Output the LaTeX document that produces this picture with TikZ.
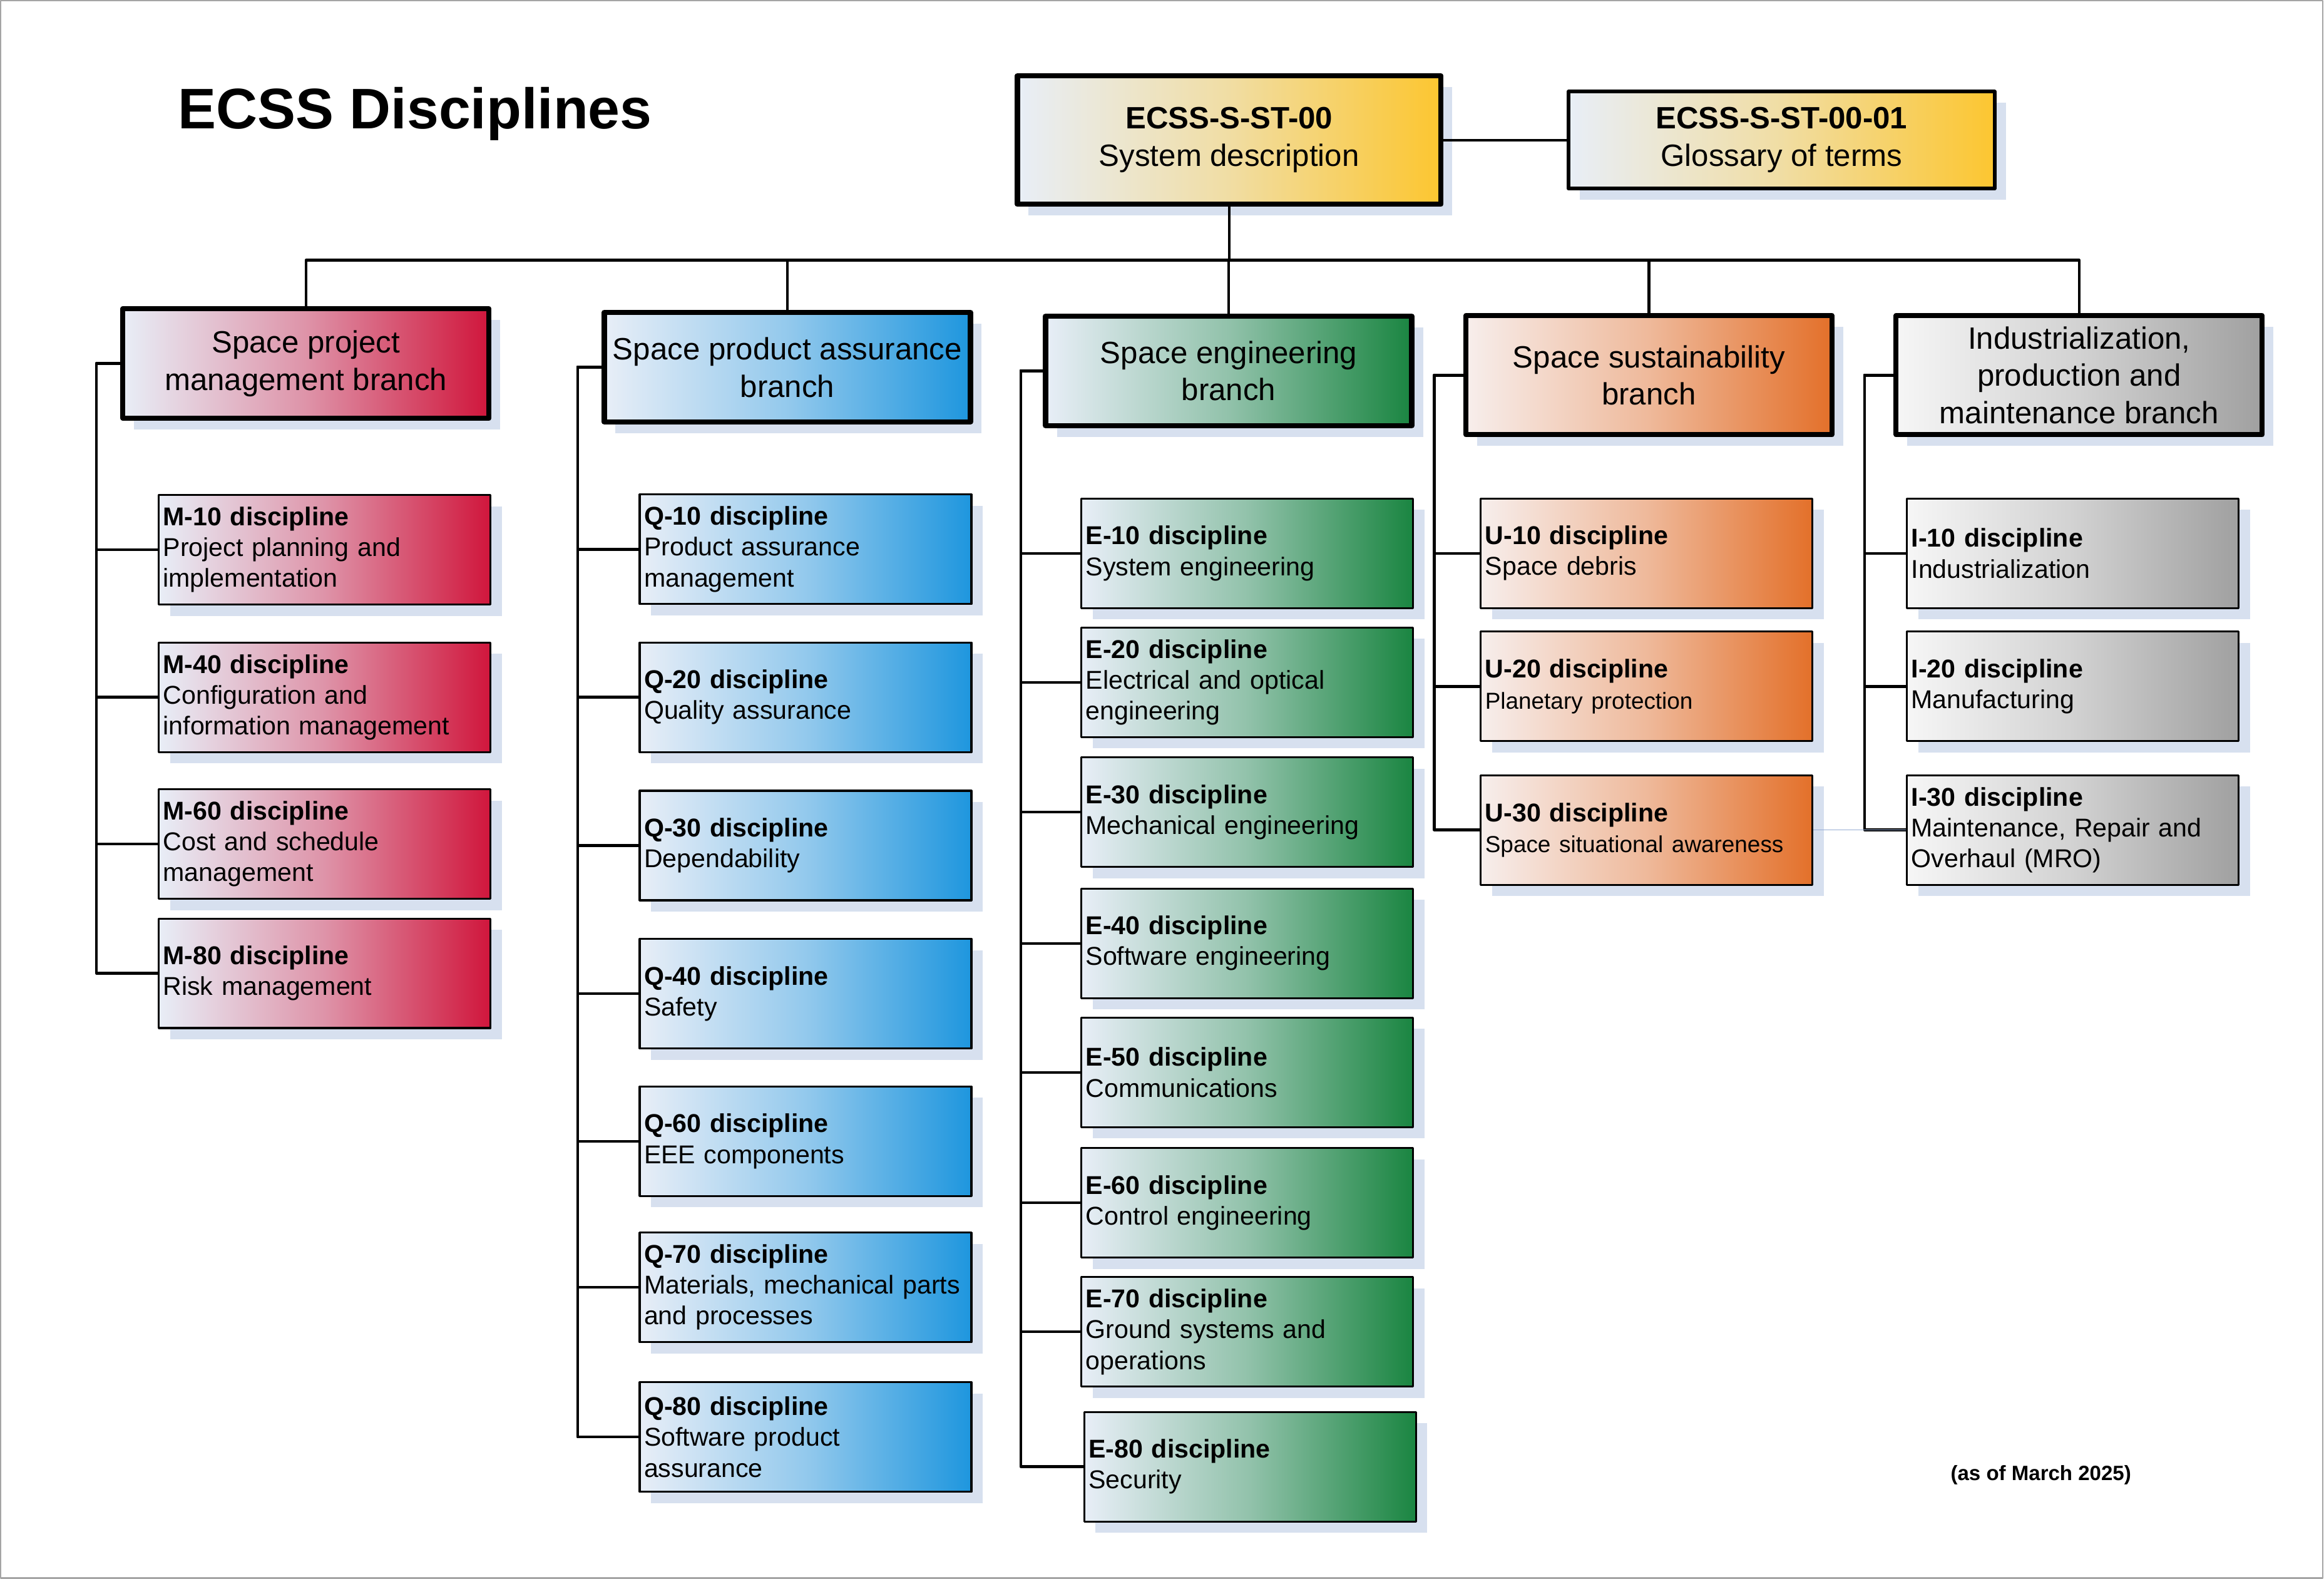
\documentclass[tikz,border=0pt]{standalone}
\usepackage{fontspec}
\setmainfont{Liberation Sans}
\usetikzlibrary{shadows}
\definecolor{pale}{RGB}{232,238,247}
\definecolor{warmpale}{RGB}{247,238,236}
\definecolor{greypale}{RGB}{246,246,246}
\definecolor{shadowc}{RGB}{215,224,239}
\definecolor{ecgold}{RGB}{252,198,48}
\definecolor{ecred}{RGB}{208,22,60}
\definecolor{ecblue}{RGB}{30,150,222}
\definecolor{ecgreen}{RGB}{26,133,65}
\definecolor{ecorange}{RGB}{227,112,42}
\definecolor{ecgrey}{RGB}{160,160,160}
\definecolor{framec}{RGB}{165,165,165}
\definecolor{faint}{RGB}{150,172,212}
\begin{document}
\begin{tikzpicture}[x=0.02368cm, y=-0.02368cm, line join=round,
  shadowbox/.style={rectangle, draw, general shadow={fill=shadowc, shadow xshift=0.18cm, shadow yshift=-0.18cm}},
  topbox/.style={shadowbox, align=center, font=\fontsize{14}{17}\selectfont, left color=pale, right color=ecgold, middle color=ecgold!42!pale},
  branchbox/.style 2 args={shadowbox, line width=2.35pt, minimum width=5.85cm, minimum height=1.75cm, align=center, font=\fontsize{14}{17}\selectfont, left color=#2, right color=#1, middle color=#1!42!#2},
  discbox/.style 2 args={shadowbox, line width=0.9pt, text width=5.16cm, inner xsep=0.07cm, inner ysep=0pt, minimum height=1.75cm, align=left, font=\fontsize{11.7}{14}\selectfont, left color=#2, right color=#1, middle color=#1!42!#2},
  conn/.style={line width=1.25pt}]
  \useasboundingbox (0,0) rectangle (1568,1065);
  \draw[framec, line width=0.6pt] (0.6,0.6) rectangle (1567.3,1064.4);
  \node[anchor=base west, inner sep=0pt, font=\fontsize{26}{30}\selectfont\bfseries] (title) at (120,86.6) {ECSS Disciplines};
  \node[topbox, line width=2.4pt, minimum width=6.77cm, minimum height=2.05cm] (top) at (829.3,94.5) {\textbf{ECSS-S-ST-00}\\System description};
  \node[topbox, line width=1.6pt, minimum width=6.81cm, minimum height=1.55cm] (gloss) at (1202,94.5) {\textbf{ECSS-S-ST-00-01}\\Glossary of terms};
  \draw[conn] (top.east) -- (gloss.west);
  % branches
  \node[branchbox={ecred}{pale}] (B1) at (206.4,245.2) {Space project\\management branch};
  \node[branchbox={ecblue}{pale}] (B2) at (531.2,247.7) {Space product assurance\\branch};
  \node[branchbox={ecgreen}{pale}] (B3) at (829,250.2) {Space engineering\\branch};
  \node[branchbox={ecorange}{warmpale}, minimum height=1.9cm] (B4) at (1112.5,253.1) {Space sustainability\\branch};
  \node[branchbox={ecgrey}{greypale}, minimum height=1.9cm] (B5) at (1402.8,253.1) {Industrialization,\\production and\\maintenance branch};
  \coordinate (bus) at (0,175.5);
  \foreach \b in {B1,B2,B3,B4,B5} \draw[conn] (top.south) -- (top.south |- bus) -| (\b.north);
  % disciplines
  \foreach \n/\y/\t in {M10/370.8/{\textbf{M-10 discipline}\\Project planning and\\implementation},
    M40/470.3/{\textbf{M-40 discipline}\\Configuration and\\information management},
    M60/569.3/{\textbf{M-60 discipline}\\Cost and schedule\\management},
    M80/656.5/{\textbf{M-80 discipline}\\Risk management}}{
    \node[discbox={ecred}{pale}] (\n) at (219,\y) {\t};
    \draw[conn] (B1.west) -- ++(-16,0) |- (\n.west);
  }
  \foreach \n/\y/\t in {Q10/370.5/{\textbf{Q-10 discipline}\\Product assurance\\management},
    Q20/470.3/{\textbf{Q-20 discipline}\\Quality assurance},
    Q30/570.3/{\textbf{Q-30 discipline}\\Dependability},
    Q40/670.3/{\textbf{Q-40 discipline}\\Safety},
    Q60/769.8/{\textbf{Q-60 discipline}\\EEE components},
    Q70/868.3/{\textbf{Q-70 discipline}\\Materials, mechanical parts\\and processes},
    Q80/969.3/{\textbf{Q-80 discipline}\\Software product\\assurance}}{
    \node[discbox={ecblue}{pale}] (\n) at (543.5,\y) {\t};
    \draw[conn] (B2.west) -- ++(-16.2,0) |- (\n.west);
  }
  \foreach \n/\y/\t in {E10/373.3/{\textbf{E-10 discipline}\\System engineering},
    E20/460.3/{\textbf{E-20 discipline}\\Electrical and optical\\engineering},
    E30/547.8/{\textbf{E-30 discipline}\\Mechanical engineering},
    E40/636.3/{\textbf{E-40 discipline}\\Software engineering},
    E50/723.3/{\textbf{E-50 discipline}\\Communications},
    E60/811.3/{\textbf{E-60 discipline}\\Control engineering},
    E70/898.3/{\textbf{E-70 discipline}\\Ground systems and\\operations}}{
    \node[discbox={ecgreen}{pale}] (\n) at (841.5,\y) {\t};
    \draw[conn] (B3.west) -- ++(-15,0) |- (\n.west);
  }
  \node[discbox={ecgreen}{pale}] (E80) at (843.5,989.3) {\textbf{E-80 discipline}\\Security};
  \draw[conn] (B3.west) -- ++(-15,0) |- (E80.west);
  \foreach \n/\y/\t in {U10/373.2/{\textbf{U-10 discipline}\\Space debris},
    U20/463/{\textbf{U-20 discipline}\\{\fontsize{10.5}{14}\selectfont Planetary protection}},
    U30/559.8/{\textbf{U-30 discipline}\\{\fontsize{10.5}{14}\selectfont Space situational awareness}}}{
    \node[discbox={ecorange}{warmpale}] (\n) at (1111,\y) {\t};
    \draw[conn] (B4.west) -- ++(-19.5,0) |- (\n.west);
  }
  \foreach \n/\y/\t in {I10/373.2/{\textbf{I-10 discipline}\\Industrialization},
    I20/463/{\textbf{I-20 discipline}\\Manufacturing},
    I30/559.8/{\textbf{I-30 discipline}\\Maintenance, Repair and\\Overhaul (MRO)}}{
    \node[discbox={ecgrey}{greypale}] (\n) at (1398.5,\y) {\t};
    \draw[conn] (B5.west) -- ++(-19.6,0) |- (\n.west);
  }
  \draw[faint, line width=0.4pt] (U30.east) -- (I30.west);
  \node[font=\fontsize{9.4}{11}\selectfont\bfseries] (date) at (1377,995) {(as of March 2025)};
\end{tikzpicture}
\end{document}
